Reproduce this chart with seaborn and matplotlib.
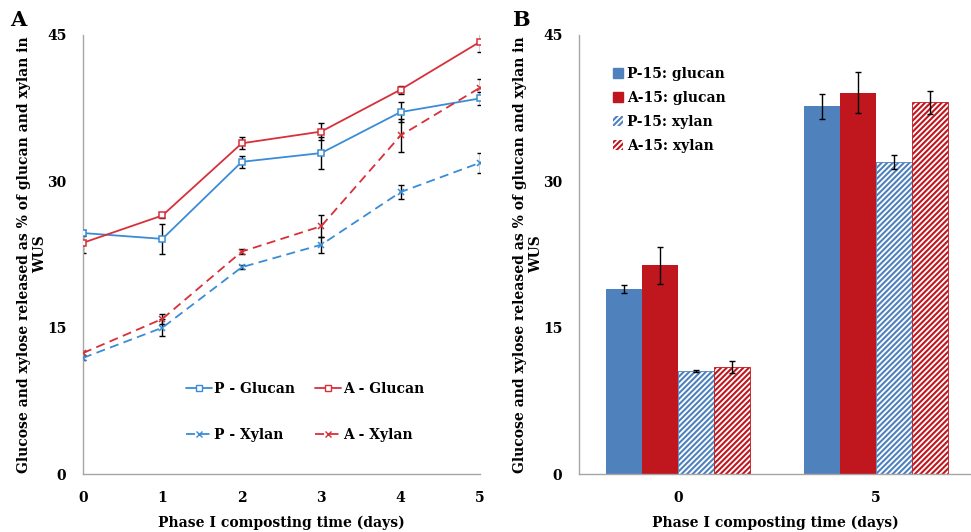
import numpy as np
import pandas as pd
import matplotlib
matplotlib.use("Agg")
import matplotlib.pyplot as plt
import seaborn as sns
from matplotlib.lines import Line2D
from matplotlib.patches import Patch

# ---------------- data ----------------
days = [0, 1, 2, 3, 4, 5]
p_glucan = [24.7, 24.1, 32.0, 32.9, 37.1, 38.5]
p_glucan_err = [0.3, 1.5, 0.6, 1.6, 1.0, 0.7]
a_glucan = [23.7, 26.5, 33.9, 35.1, 39.4, 44.3]
a_glucan_err = [1.0, 0.3, 0.6, 0.9, 0.4, 1.0]
p_xylan = [11.9, 15.0, 21.2, 23.5, 28.9, 31.9]
p_xylan_err = [0.2, 0.9, 0.2, 0.8, 0.7, 1.0]
a_xylan = [12.4, 15.9, 22.8, 25.4, 34.7, 39.6]
a_xylan_err = [0.2, 0.5, 0.3, 1.1, 1.7, 0.9]

bar_days = ["0", "5"]
bar_series = ["P-15: glucan", "A-15: glucan", "P-15: xylan", "A-15: xylan"]
bar_values = {
    "P-15: glucan": [18.95, 37.7],
    "A-15: glucan": [21.4, 39.1],
    "P-15: xylan": [10.55, 32.0],
    "A-15: xylan": [11.0, 38.1],
}
bar_errors = {
    "P-15: glucan": [0.4, 1.3],
    "A-15: glucan": [1.9, 2.1],
    "P-15: xylan": [0.1, 0.7],
    "A-15: xylan": [0.6, 1.2],
}

# ---------------- style ----------------
sns.set_theme(style="white")
plt.rcParams["font.family"] = ["DejaVu Serif"]
plt.rcParams["font.weight"] = "bold"
plt.rcParams["hatch.linewidth"] = 1.5
plt.rcParams["text.color"] = "black"
plt.rcParams["axes.labelcolor"] = "black"
plt.rcParams["xtick.labelcolor"] = "black"
plt.rcParams["ytick.labelcolor"] = "black"

LINE_BLUE = "#3A8CD6"
LINE_RED = "#D8303A"
BAR_BLUE = "#4F81BD"
BAR_RED = "#C0161E"
AXIS_GRAY = "#A6A6A6"
FS = 10

fig = plt.figure(figsize=(9.71, 5.32), dpi=100)
W, H = 971, 532
axA = fig.add_axes([83 / W, 1 - 474 / H, (480 - 83) / W, (474 - 35) / H])
axB = fig.add_axes([579 / W, 1 - 474 / H, (971 - 579) / W, (474 - 35) / H])

ylabel = "Glucose and xylose released as % of glucan and xylan in\nWUS"

# ---------------- panel A ----------------
series = [
    ("P - Glucan", p_glucan, p_glucan_err, LINE_BLUE, "-", "s"),
    ("A - Glucan", a_glucan, a_glucan_err, LINE_RED, "-", "s"),
    ("P - Xylan", p_xylan, p_xylan_err, LINE_BLUE, (0, (5, 3)), "x"),
    ("A - Xylan", a_xylan, a_xylan_err, LINE_RED, (0, (5, 3)), "x"),
]
for name, vals, errs, col, ls, mk in series:
    axA.errorbar(days, vals, yerr=errs, fmt="none", ecolor="black",
                 elinewidth=1.0, capsize=2.5, capthick=1.0, zorder=2)
for name, vals, errs, col, ls, mk in series:
    sns.lineplot(x=days, y=vals, ax=axA, color=col, linestyle=ls,
                 linewidth=1.3, marker=mk, markersize=4.3,
                 markerfacecolor="white" if mk == "s" else col,
                 markeredgecolor=col, markeredgewidth=1.1, label=name,
                 legend=False, zorder=3)

axA.set_xlim(0, 5)
axA.set_ylim(0, 45)
axA.set_yticks([0, 15, 30, 45])
axA.set_xticks(days)
axA.set_xlabel("Phase I composting time (days)", fontsize=FS, fontweight="bold")
axA.set_ylabel(ylabel, fontsize=FS, fontweight="bold")

handles = []
for name, vals, errs, col, ls, mk in series:
    handles.append(Line2D([], [], color=col, linestyle=ls, linewidth=1.3, marker=mk,
                          markersize=4.3, markerfacecolor="white" if mk == "s" else col,
                          markeredgecolor=col, label=name))
order = [0, 2, 1, 3]
axA.legend([handles[i] for i in order], [series[i][0] for i in order],
           ncol=2, loc="center", bbox_to_anchor=(0.56, 0.142), frameon=False,
           fontsize=FS, labelspacing=2.3, columnspacing=1.4, handlelength=1.9,
           handletextpad=0.15)

# ---------------- panel B ----------------
rows = []
for s in bar_series:
    for d, v in zip(bar_days, bar_values[s]):
        rows.append({"day": d, "series": s, "value": v})
df = pd.DataFrame(rows)
palette = {"P-15: glucan": BAR_BLUE, "A-15: glucan": BAR_RED,
           "P-15: xylan": BAR_BLUE, "A-15: xylan": BAR_RED}
sns.barplot(data=df, x="day", y="value", hue="series", hue_order=bar_series,
            order=bar_days, palette=palette, errorbar=None, width=0.73,
            saturation=1, ax=axB, legend=False, linewidth=0)

for s, cont in zip(bar_series, axB.containers):
    col = palette[s]
    xs = []
    for p in cont.patches:
        if "xylan" in s:
            p.set_facecolor("white")
            p.set_edgecolor(col)
            p.set_hatch("//////")
            p.set_linewidth(0.6)
        xs.append(p.get_x() + p.get_width() / 2)
    axB.errorbar(xs, bar_values[s], yerr=bar_errors[s], fmt="none", ecolor="black",
                 elinewidth=1.0, capsize=2.5, capthick=1.0, zorder=5)

axB.set_xlim(-0.5, 1.48)
axB.set_ylim(0, 45)
axB.set_yticks([0, 15, 30, 45])
axB.set_xticks([0, 1])
axB.set_xticklabels(bar_days)
axB.tick_params(axis="x", which="major", length=0, pad=14)
axB.set_xticks([0.5], minor=True)
axB.tick_params(axis="x", which="minor", length=4, color=AXIS_GRAY, direction="out")
axB.set_xlabel("Phase I composting time (days)", fontsize=FS, fontweight="bold")
axB.set_ylabel(ylabel, fontsize=FS, fontweight="bold")

leg_handles = [
    Patch(facecolor=BAR_BLUE, edgecolor=BAR_BLUE, label=bar_series[0]),
    Patch(facecolor=BAR_RED, edgecolor=BAR_RED, label=bar_series[1]),
    Patch(facecolor="white", edgecolor=BAR_BLUE, hatch="//////", linewidth=0, label=bar_series[2]),
    Patch(facecolor="white", edgecolor=BAR_RED, hatch="//////", linewidth=0, label=bar_series[3]),
]
axB.legend(handles=leg_handles, loc="upper left", bbox_to_anchor=(0.072, 0.94),
           frameon=False, fontsize=FS, handlelength=0.7, handleheight=0.7,
           handletextpad=0.3, labelspacing=0.72, borderaxespad=0)

# ---------------- common axis style ----------------
for ax in (axA, axB):
    sns.despine(ax=ax, top=True, right=True)
    for sp in ("left", "bottom"):
        ax.spines[sp].set_color(AXIS_GRAY)
        ax.spines[sp].set_linewidth(1.0)
    ax.tick_params(axis="y", which="major", length=3, color=AXIS_GRAY, direction="out",
                   labelsize=FS, pad=9, labelcolor="black")
    ax.tick_params(axis="x", which="major", labelsize=FS, color=AXIS_GRAY, labelcolor="black")
    for lab in ax.get_xticklabels() + ax.get_yticklabels():
        lab.set_fontweight("bold")
    ax.xaxis.set_label_coords(0.5, -(516 - 474) / (474 - 35))
axA.tick_params(axis="x", length=4, direction="out", pad=8)
axB.tick_params(axis="x", which="major", pad=12)
axA.yaxis.set_label_coords(-(83 - 47) / 397, 0.5)
axB.yaxis.set_label_coords(-(579 - 543) / 392, 0.5)

fig.text(10 / W, 1 - 20 / H, "A", fontsize=15, fontweight="bold", va="center", ha="left")
fig.text(512 / W, 1 - 20 / H, "B", fontsize=15, fontweight="bold", va="center", ha="left")

fig.savefig("out.png", dpi=100)
